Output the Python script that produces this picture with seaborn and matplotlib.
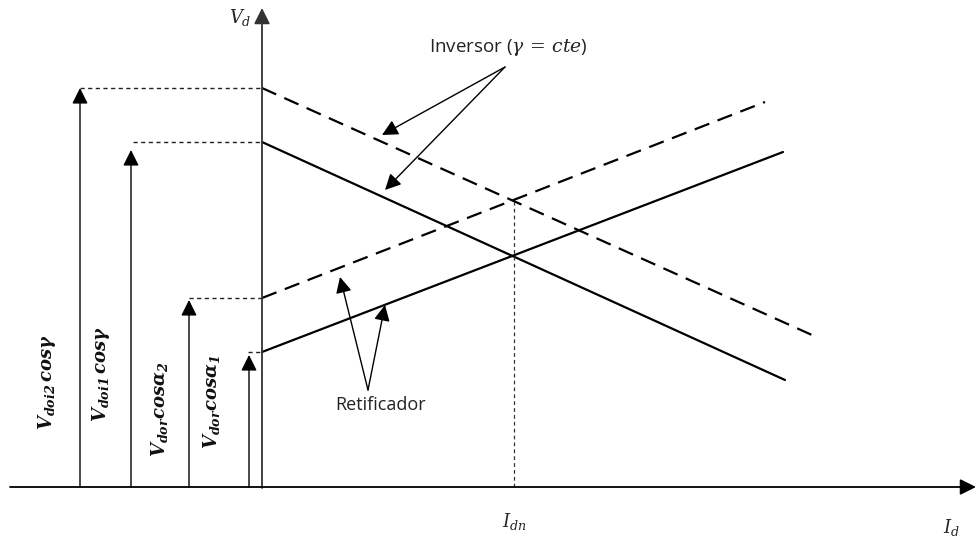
import pandas as pd
import seaborn as sns
import matplotlib.pyplot as plt

# características (coordenadas do esquema, origem no cruzamento dos eixos)
line_names = ['inv2', 'inv1', 'ret2', 'ret1']
x_start = [0, 0, 0, 0]
x_end = [550, 523, 503, 521]
y_start = [399, 345, 189, 135]
y_end = [152, 107, 385, 335]
line_kind = ['tracejada', 'cheia', 'tracejada', 'cheia']

# níveis de tensão à esquerda do eixo
level_labels = [r'$\mathbf{V_{doi2}\,cos\gamma}$', r'$\mathbf{V_{doi1}\,cos\gamma}$',
                r'$\mathbf{V_{dor}cos\alpha_2}$', r'$\mathbf{V_{dor}cos\alpha_1}$']
level_y = [399, 345, 189, 135]
guide_x = [-182, -129, -73, -14]
arrow_x = [-182, -131, -73, -13]
arrow_top = [399, 337, 187, 132]
label_x = [-215, -161, -103, -50]
label_y = [105, 113, 78, 85]

I_dn = 252
V_cross = 287

sns.set_style('white')
plt.rcParams['font.family'] = ['Open Sans', 'DejaVu Sans']
plt.rcParams['mathtext.fontset'] = 'custom'
plt.rcParams['mathtext.rm'] = 'DejaVu Serif'
plt.rcParams['mathtext.it'] = 'DejaVu Serif:italic'
plt.rcParams['mathtext.bf'] = 'DejaVu Serif:italic:bold'

df = pd.DataFrame({
    'x': x_start + x_end,
    'y': y_start + y_end,
    'linha': line_names + line_names,
    'tipo': line_kind + line_kind,
})

fig = plt.figure(figsize=(9.76, 5.38), dpi=100)
ax = fig.add_axes([0, 0, 1, 1])

sns.lineplot(data=df, x='x', y='y', units='linha', style='tipo', estimator=None,
             dashes={'cheia': '', 'tracejada': (7, 4)}, color='black',
             linewidth=1.6, legend=False, ax=ax)

ax.set_xlim(-262, 714)
ax.set_ylim(-51, 487)
ax.axis('off')

arrow_kw = dict(arrowstyle='-|>,head_length=0.6,head_width=0.3', mutation_scale=16,
                color='black', lw=1.0, shrinkA=0, shrinkB=0)

# eixos
ax.annotate('', xy=(0, 479), xytext=(0, -1), arrowprops={**arrow_kw, 'color': '#333333', 'lw': 1.3})
ax.annotate('', xy=(714, 0), xytext=(-252, 0), arrowprops={**arrow_kw, 'lw': 1.3})

# linhas de referência e setas de tensão
for gx, ly, axx, at, lab, lx, lyy in zip(guide_x, level_y, arrow_x, arrow_top,
                                         level_labels, label_x, label_y):
    ax.plot([gx, 0], [ly, ly], color='#222222', lw=1.0, dashes=(3, 2.5))
    ax.annotate('', xy=(axx, at), xytext=(axx, 0), arrowprops=arrow_kw)
    ax.text(lx, lyy, lab, rotation=90, ha='center', va='center', fontsize=13, color='#111111')

ax.plot([I_dn, I_dn], [0, V_cross], color='#333333', lw=0.9, dashes=(3, 2.5))

# rótulos
ax.text(-22, 469, r'$V_d$', ha='center', va='center', fontsize=13)
ax.text(I_dn, -35, r'$I_{dn}$', ha='center', va='center', fontsize=13)
ax.text(689, -41, r'$I_d$', ha='center', va='center', fontsize=13)

ax.text(246, 439, r'Inversor ($\gamma\,=\,cte$)', ha='center', va='center', fontsize=13.5, color='#222222')
ax.annotate('', xy=(120, 352), xytext=(243, 420), arrowprops=arrow_kw)
ax.annotate('', xy=(123, 297), xytext=(243, 420), arrowprops=arrow_kw)

ax.text(119, 82, 'Retificador', ha='center', va='center', fontsize=13, color='#222222')
ax.annotate('', xy=(78, 210), xytext=(106, 97), arrowprops=arrow_kw)
ax.annotate('', xy=(123, 182), xytext=(106, 97), arrowprops=arrow_kw)

fig.savefig('out.png', dpi=100)
